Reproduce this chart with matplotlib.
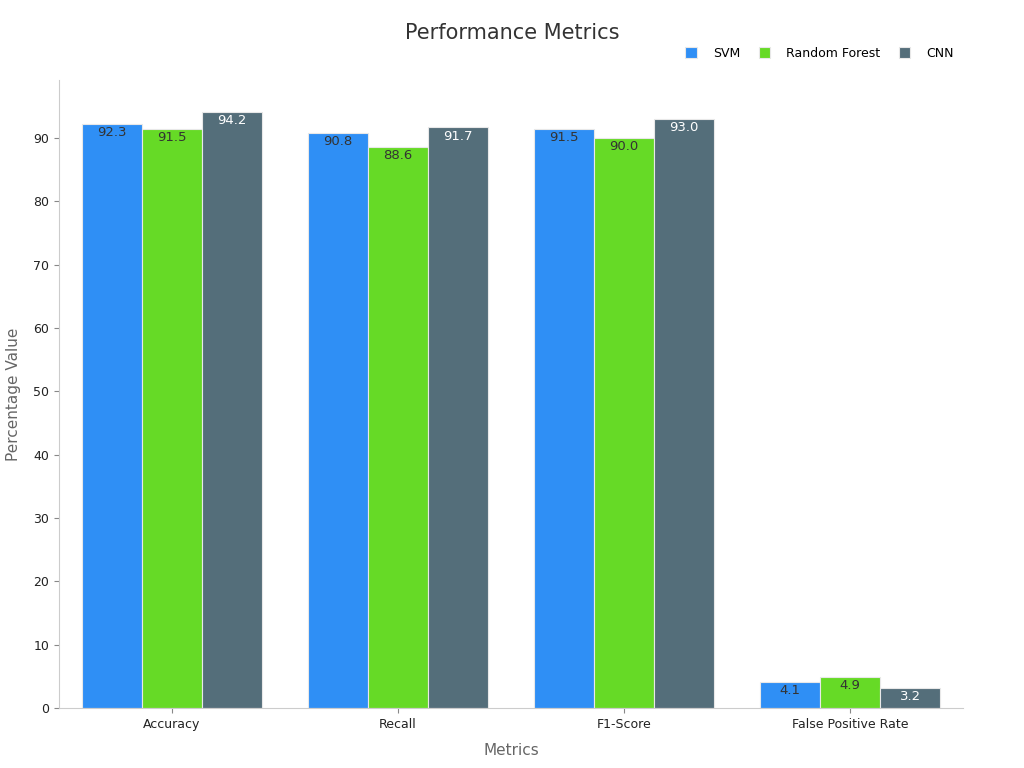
import matplotlib
matplotlib.use("Agg")
import matplotlib.pyplot as plt
import numpy as np

metrics = ["Accuracy", "Recall", "F1-Score", "False Positive Rate"]
models = ["SVM", "Random Forest", "CNN"]
svm = [92.3, 90.8, 91.5, 4.1]
rf = [91.5, 88.6, 90.0, 4.9]
cnn = [94.2, 91.7, 93.0, 3.2]

colors = ["#2f8ff5", "#66da26", "#546e7a"]
label_colors = ["#333333", "#333333", "#ffffff"]

fig = plt.figure(figsize=(10.24, 7.68), dpi=100)
ax = fig.add_axes([0.0576, 0.078, 0.8828, 0.818])

x = np.arange(len(metrics))
width = 0.8 / 3
for i, (name, vals) in enumerate(zip(models, [svm, rf, cnn])):
    pos = x + (i - 1) * width
    bars = ax.bar(pos, vals, width, color=colors[i], edgecolor="#e8e8e8",
                  linewidth=0.8, label=name)
    for b, v in zip(bars, vals):
        ax.text(b.get_x() + b.get_width() / 2, v - 0.35, f"{v:.1f}",
                ha="center", va="top", fontsize=9.5, color=label_colors[i])

ax.set_xlim(-0.5, 3.5)
ax.set_ylim(0, 99.2)
ax.set_xticks(x)
ax.set_xticklabels(metrics, fontsize=9, color="#222222")
ax.set_yticks(range(0, 100, 10))
ax.tick_params(axis="y", labelsize=9, colors="#222222")
ax.tick_params(axis="both", color="#888888")
for s in ["top", "right"]:
    ax.spines[s].set_visible(False)
for s in ["left", "bottom"]:
    ax.spines[s].set_color("#cccccc")

ax.set_xlabel("Metrics", fontsize=11, color="#666666", labelpad=9)
ax.set_ylabel("Percentage Value", fontsize=11, color="#666666", labelpad=9)
fig.suptitle("Performance Metrics", fontsize=15, color="#333333", y=0.97, x=0.5)

ax.legend(loc="lower right", bbox_to_anchor=(1.0, 1.018), ncol=3, frameon=False,
          fontsize=9, handlelength=0.9, handleheight=0.9, columnspacing=1.5,
          handletextpad=1.3, borderaxespad=0.3)

fig.savefig("out.png", dpi=100)
